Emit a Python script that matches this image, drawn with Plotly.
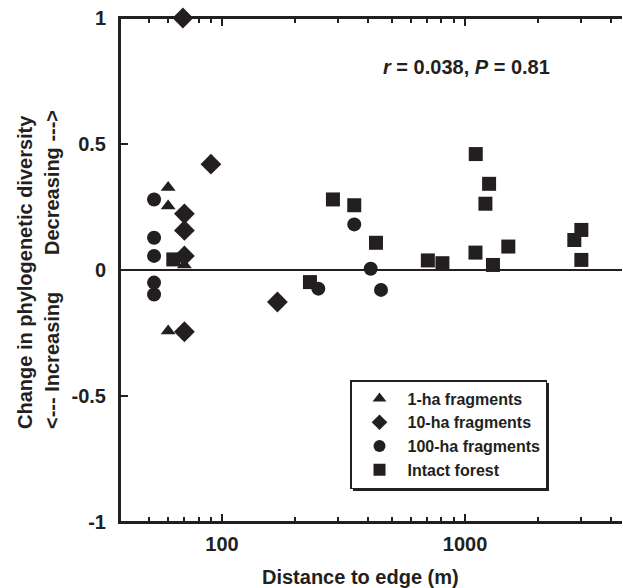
import plotly.graph_objects as go

# Data (distance to edge in m, change in phylogenetic diversity)
tri_x = [60, 60, 70, 60]
tri_y = [0.327, 0.254, 0.02, -0.242]

dia_x = [69, 90, 70, 70, 70, 70, 169]
dia_y = [1.0, 0.42, 0.223, 0.157, 0.056, -0.245, -0.127]

cir_x = [52.5, 52.5, 52.5, 52.5, 52.5, 249, 350, 409, 451]
cir_y = [0.28, 0.128, 0.056, -0.05, -0.097, -0.074, 0.181, 0.005, -0.079]

sq_x = [63, 230, 286, 350, 430, 703, 807, 1104, 1107, 1213, 1256, 1303, 1507, 2817, 3011, 3011]
sq_y = [0.042, -0.048, 0.28, 0.257, 0.108, 0.038, 0.027, 0.069, 0.46, 0.263, 0.342, 0.02, 0.093, 0.119, 0.159, 0.04]

series = [
    ("1-ha fragments", tri_x, tri_y, "triangle-up", 13),
    ("10-ha fragments", dia_x, dia_y, "diamond", 16),
    ("100-ha fragments", cir_x, cir_y, "circle", 14),
    ("Intact forest", sq_x, sq_y, "square", 14),
]

x_major = [100, 1000]
x_minor = [50, 60, 70, 80, 90, 200, 300, 400, 500, 600, 700, 800, 900, 2000, 3000, 4000]
y_ticks = [-1, -0.5, 0, 0.5, 1]
y_ticktext = ["-1", "-0.5", "0", "0.5", "1"]

INK = "#231f20"
FONT = "Liberation Sans"

W, H = 623, 588
SL, SR, ST, SB = 120, 622, 18, 522  # plot area in window pixels
L, T = SL, ST
pw, ph = SR - SL, SB - ST
R, B = W - L - pw, H - T - ph


def px_x(p):
    return (p - SL) / pw


def px_y(p):
    return (SB - p) / ph


fig = go.Figure()
for name, xs, ys, sym, sz in series:
    fig.add_trace(go.Scatter(
        x=xs, y=ys, mode="markers", name="<b>%s</b>" % name, cliponaxis=False,
        marker=dict(symbol=sym, size=sz, color=INK, line=dict(width=0)),
    ))

fig.update_layout(
    width=W, height=H,
    margin=dict(l=L, r=R, t=T, b=B, pad=0),
    paper_bgcolor="white", plot_bgcolor="white",
    font=dict(family=FONT, size=20, color=INK),
    showlegend=True,
    legend=dict(
        x=px_x(350), y=px_y(380), xanchor="left", yanchor="top",
        bgcolor="white", bordercolor=INK, borderwidth=1.5,
        font=dict(family=FONT, size=16, color=INK),
        itemsizing="constant", itemwidth=46, tracegroupgap=0,
    ),
    xaxis=dict(
        type="log", range=[1.580, 3.646],
        showgrid=False, zeroline=False,
        showline=True, linecolor=INK, linewidth=2, mirror="ticks",
        ticks="inside", ticklen=8, tickwidth=2, tickcolor=INK,
        tickvals=x_major, ticktext=["<b>%s</b>" % v for v in x_major],
        tickfont=dict(family=FONT, size=20, color=INK),
        ticklabelstandoff=3, ticklabeloverflow="allow",
        minor=dict(tickvals=x_minor, ticks="inside", ticklen=5, tickwidth=1.5, tickcolor=INK, showgrid=False),
    ),
    yaxis=dict(
        range=[-1, 1],
        showgrid=False,
        zeroline=True, zerolinecolor=INK, zerolinewidth=2,
        showline=True, linecolor=INK, linewidth=2, mirror=False,
        ticks="inside", ticklen=8, tickwidth=2, tickcolor=INK,
        tickvals=y_ticks, ticktext=["<b>%s</b>" % t for t in y_ticktext],
        tickfont=dict(family=FONT, size=20, color=INK),
        ticklabelstandoff=8, ticklabeloverflow="allow",
    ),
)

# axis frame lines (left, bottom, top)
for x0, y0, x1, y1 in [(0, 0, 0, 1), (0, 0, 1, 0), (0, 1, 1, 1)]:
    fig.add_shape(type="line", xref="paper", yref="paper", x0=x0, y0=y0, x1=x1, y1=y1,
                  line=dict(color=INK, width=2), layer="above")

# legend drop shadow
fig.add_shape(type="rect", xref="paper", yref="paper",
              x0=px_x(353), x1=px_x(549), y0=px_y(491), y1=px_y(383),
              fillcolor=INK, line=dict(width=0), layer="above")

txt = dict(showarrow=False, xref="paper", yref="paper", xanchor="center", yanchor="middle")

# y-axis title (two lines)
fig.add_annotation(x=px_x(25), y=px_y(272), text="<b>Change in phylogenetic diversity</b>",
                   textangle=-90, font=dict(family=FONT, size=20, color=INK), **txt)
fig.add_annotation(x=px_x(52), y=px_y(183), text="<b>Decreasing ---></b>",
                   textangle=-90, font=dict(family=FONT, size=20, color=INK), **txt)
fig.add_annotation(x=px_x(52), y=px_y(361), text="<b><--- Increasing</b>",
                   textangle=-90, font=dict(family=FONT, size=20, color=INK), **txt)
# x-axis title
fig.add_annotation(x=px_x(360), y=px_y(577), text="<b>Distance to edge (m)</b>",
                   font=dict(family=FONT, size=20, color=INK), **txt)
# statistics
fig.add_annotation(x=px_x(466), y=px_y(67), text="<b><i>r</i> = 0.038, <i>P</i> = 0.81</b>",
                   font=dict(family=FONT, size=20, color=INK), **txt)

fig.write_html(
    "out.html",
    config={"displayModeBar": False},
    post_script="document.body.style.margin='0';document.documentElement.style.overflow='hidden';",
)
